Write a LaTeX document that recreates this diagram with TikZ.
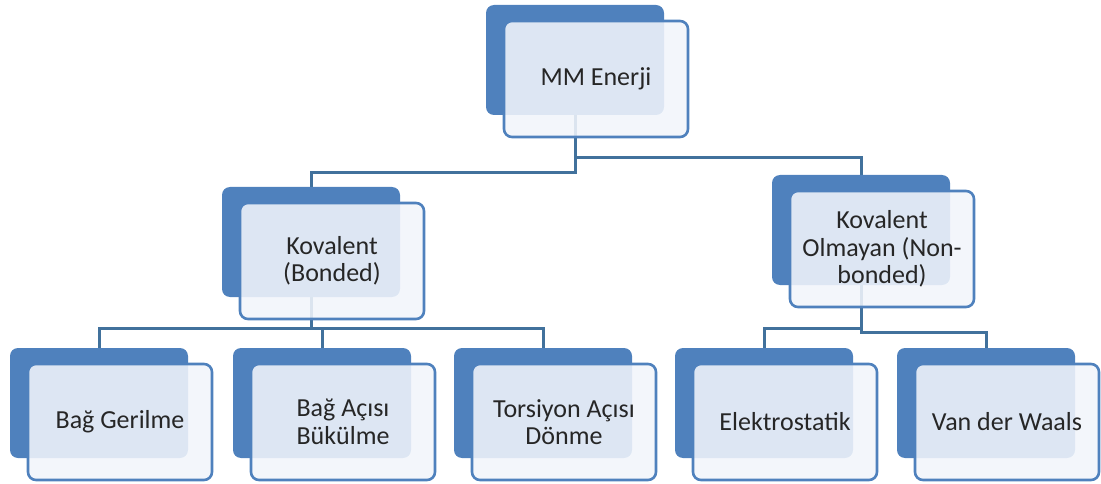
\documentclass[tikz,border=0pt]{standalone}
\usepackage{fontspec}
\setmainfont{Carlito}
\usetikzlibrary{backgrounds}
\definecolor{cardBlue}{HTML}{4F81BD}
\definecolor{cardFill}{RGB}{241,245,251}
\definecolor{linkBlue}{HTML}{41719C}
\definecolor{textGray}{HTML}{262626}
\tikzset{
  backcard/.style={fill=cardBlue, rounded corners=8pt, minimum width=178pt,
    minimum height=110pt, inner sep=0pt},
  frontcard/.style={draw=cardBlue, line width=2.6pt, fill=cardFill, fill opacity=0.88,
    text opacity=1, rounded corners=8pt, minimum width=184pt, minimum height=116pt,
    inner sep=0pt, align=center, text=textGray, font=\fontsize{26}{27.5}\selectfont},
  link/.style={draw=linkBlue, line width=3pt},
}
\newcommand{\myCard}[3]{
\node[backcard] (#1B) at (#2) {};
\node[frontcard] (#1) at ([shift={(21,19)}]#1B) {#3};
}

\begin{document}
\begin{tikzpicture}[x=1pt, y=-1pt]
	\useasboundingbox (0,0) rectangle (1101,484);

	\myCard{mm}{575,60}{MM Enerji}
	\myCard{kov}{311,242}{Kovalent\\(Bonded)}
	\myCard{non}{861,230}{Kovalent\\Olmayan (Non-\\bonded)}

	\myCard{bag}{99,403}{Bağ Gerilme}
	\myCard{aci}{322,403}{Bağ Açısı\\Bükülme}
	\myCard{tor}{543,403}{Torsiyon Açısı\\Dönme}
	\myCard{ele}{764,403}{Elektrostatik}
	\myCard{vdw}{986,403}{Van der Waals}

	% connectors behind the cards
	\begin{scope}[on background layer]
	\draw[link] (mmB.south) -- ++(0,57) -| (kovB.north);
	\draw[link] (mmB.south) -- ++(0,42) -| (nonB.north);

	\draw[link] (kovB.south) -- ++(0,31) -| (bagB.north);
	\draw[link] (kovB.south) -- ++(0,31) -| (aciB.north);
	\draw[link] (kovB.south) -- ++(0,31) -| (torB.north);

	\draw[link] (nonB.south) -- ++(0,43) -| (eleB.north);
	\draw[link] (nonB.south) -- ++(0,47) -| (vdwB.north);
	\end{scope}
\end{tikzpicture}
\end{document}
